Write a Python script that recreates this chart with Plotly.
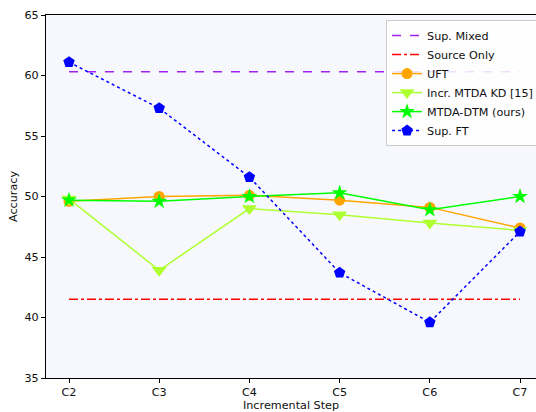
import plotly.graph_objects as go

steps = ["C2", "C3", "C4", "C5", "C6", "C7"]
sup_mixed = [60.3] * 6
source_only = [41.5] * 6
uft = [49.6, 50.0, 50.1, 49.7, 49.1, 47.4]
incr_kd = [49.8, 43.9, 49.0, 48.5, 47.8, 47.2]
mtda_dtm = [49.7, 49.6, 50.0, 50.3, 48.9, 50.0]
sup_ft = [61.1, 57.3, 51.6, 43.7, 39.6, 47.1]

x = list(range(len(steps)))

fig = go.Figure()
fig.add_trace(go.Scatter(x=x, y=sup_mixed, mode="lines", name="Sup. Mixed",
                         line=dict(color="#a020f0", width=1.5, dash="dash")))
fig.add_trace(go.Scatter(x=x, y=source_only, mode="lines", name="Source Only",
                         line=dict(color="#ff0000", width=1.5, dash="dashdot")))
fig.add_trace(go.Scatter(x=x, y=uft, mode="lines+markers", name="UFT",
                         line=dict(color="#ffa500", width=1.5),
                         marker=dict(symbol="circle", size=11, color="#ffa500")))
fig.add_trace(go.Scatter(x=x, y=incr_kd, mode="lines+markers", name="Incr. MTDA KD [15]",
                         line=dict(color="#adff2f", width=1.5),
                         marker=dict(symbol="triangle-down", size=13, color="#adff2f")))
fig.add_trace(go.Scatter(x=x, y=mtda_dtm, mode="lines+markers", name="MTDA-DTM (ours)",
                         line=dict(color="#00ff00", width=1.5),
                         marker=dict(symbol="star", size=12, color="#00ff00")))
fig.add_trace(go.Scatter(x=x, y=sup_ft, mode="lines+markers", name="Sup. FT",
                         line=dict(color="#0000ff", width=1.5, dash="dot"),
                         marker=dict(symbol="pentagon", size=12, color="#0000ff")))

FS = 11.2
fig.update_layout(
    width=536, height=412,
    margin=dict(l=46, r=0, t=15, b=34, autoexpand=False),
    paper_bgcolor="white",
    plot_bgcolor="#f7f8fd",
    font=dict(family="DejaVu Sans", size=FS, color="#222"),
    showlegend=True,
    legend=dict(x=0.694, y=0.986, xanchor="left", yanchor="top",
                bgcolor="rgba(255,255,255,0.85)", bordercolor="#cccccc", borderwidth=1,
                font=dict(size=FS, color="#111"), tracegroupgap=0, itemwidth=30),
    xaxis=dict(tickmode="array", tickvals=x, ticktext=steps, range=[-0.255, 5.177],
               showgrid=False, zeroline=False, showline=True, linecolor="black", linewidth=1,
               mirror=True, ticks="outside", ticklen=4, tickcolor="black",
               tickfont=dict(size=FS, color="#111"),
               title=dict(text="Incremental Step", standoff=3, font=dict(size=FS, color="#111"))),
    yaxis=dict(range=[35, 65], tickvals=[35, 40, 45, 50, 55, 60, 65],
               showgrid=False, zeroline=False, showline=True, linecolor="black", linewidth=1,
               ticks="outside", ticklen=4, tickcolor="black",
               tickfont=dict(size=FS, color="#111"),
               title=dict(text="Accuracy", standoff=4, font=dict(size=FS, color="#111"))),
)

fig.write_html("out.html", config={"displayModeBar": False},
               post_script="document.body.style.margin='0';")
